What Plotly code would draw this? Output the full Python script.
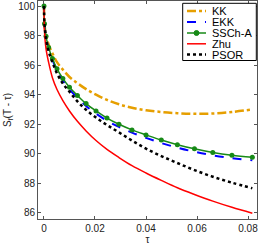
import plotly.graph_objects as go

tau = [0.0, 0.0002, 0.0008, 0.0018, 0.0033, 0.0051, 0.0074, 0.0100, 0.0131, 0.0165,
       0.0204, 0.0247, 0.0294, 0.0345, 0.0400, 0.0460, 0.0523, 0.0590, 0.0662, 0.0737, 0.0817]

kk = [100, 98.8, 98.0, 97.4, 96.8, 96.2, 95.7, 95.2, 94.78, 94.38,
      94.0, 93.65, 93.35, 93.12, 92.95, 92.83, 92.75, 92.71, 92.73, 92.83, 93.0]
ekk = [100, 98.78, 97.93, 97.15, 96.38, 95.65, 94.98, 94.36, 93.8, 93.24,
       92.72, 92.24, 91.82, 91.43, 91.08, 90.73, 90.42, 90.14, 89.9, 89.71, 89.56]
ssch = [100, 98.8, 97.95, 97.2, 96.45, 95.75, 95.1, 94.5, 93.95, 93.4,
        92.9, 92.42, 92.0, 91.62, 91.28, 90.93, 90.62, 90.34, 90.09, 89.9, 89.76]
zhu = [100, 98.3, 97.1, 96.2, 95.15, 94.35, 93.6, 92.9, 92.2, 91.55,
       90.9, 90.3, 89.75, 89.2, 88.7, 88.2, 87.7, 87.25, 86.8, 86.38, 85.98]
psor = [100, 98.8, 97.8, 96.95, 96.2, 95.45, 94.75, 94.2, 93.55, 92.98,
        92.45, 91.95, 91.45, 90.9, 90.35, 89.85, 89.38, 88.9, 88.45, 88.05, 87.67]

series_names = ["KK", "EKK", "SSCh-A", "Zhu", "PSOR"]
xticks = [0, 0.02, 0.04, 0.06, 0.08]
xticklabels = ["0", "0.02", "0.04", "0.06", "0.08"]
yticks = [86, 88, 90, 92, 94, 96, 98, 100]

styles = [
    dict(color="#E69F00", width=2.5, dash="dashdot"),
    dict(color="#0000FF", width=2, dash="dash"),
    dict(color="#178A17", width=1.5, dash="solid"),
    dict(color="#FF0000", width=1.5, dash="solid"),
    dict(color="#000000", width=2.5, dash="dot"),
]
values = [kk, ekk, ssch, zhu, psor]

fig = go.Figure()
for name, vals, st in zip(series_names, values, styles):
    has_marker = name == "SSCh-A"
    fig.add_trace(go.Scatter(
        x=tau, y=vals, name=name, mode="lines+markers" if has_marker else "lines",
        line_shape="spline", line=st, showlegend=False,
        marker=dict(symbol="circle", size=5, color=st["color"]) if has_marker else None,
    ))

# custom compact legend (paper coordinates)
W, H = 219.0, 218.0
def px(xp):
    return (xp - 38) / W
def py(yp):
    return (219 - yp) / H

shapes = [dict(type="rect", xref="paper", yref="paper", x0=px(182.7), x1=px(256.3),
               y0=py(60.5), y1=py(3.3), line=dict(color="#000000", width=1),
               fillcolor="white", layer="above")]
annotations = []
entry_y = [11, 22, 33, 43.8, 54.5]
for name, st, ey in zip(series_names, styles, entry_y):
    shapes.append(dict(type="line", xref="paper", yref="paper", x0=px(187), x1=px(206),
                       y0=py(ey), y1=py(ey), line=st, layer="above"))
    if name == "SSCh-A":
        shapes.append(dict(type="circle", xref="paper", yref="paper",
                           x0=px(194), x1=px(199), y0=py(ey + 2.5), y1=py(ey - 2.5),
                           line=dict(color=st["color"], width=1), fillcolor=st["color"],
                           layer="above"))
    annotations.append(dict(xref="paper", yref="paper", x=px(210), y=py(ey), text=name,
                            showarrow=False, xanchor="left", yanchor="middle",
                            font=dict(size=11, color="#000000")))

axis_common = dict(showline=True, linecolor="#555555", linewidth=1, mirror="ticks",
                   ticks="inside", ticklen=3, tickcolor="#555555", showgrid=False,
                   zeroline=False, tickfont=dict(size=10, color="#222222"))

fig.update_layout(
    width=259, height=245,
    margin=dict(l=38, r=2, t=1, b=26),
    paper_bgcolor="white", plot_bgcolor="white",
    font=dict(family="Liberation Sans, Arial, sans-serif", size=10, color="#222222"),
    xaxis=dict(range=[-0.00235, 0.08353], tickvals=xticks, ticktext=xticklabels,
               title=dict(text="τ", standoff=2, font=dict(size=10)), **axis_common),
    yaxis=dict(range=[85.59, 100.34], tickvals=yticks,
               title=dict(text="S<sub>f</sub>(T - τ)", standoff=4, font=dict(size=10)), **axis_common),
    shapes=shapes,
    annotations=annotations,
    showlegend=False,
)

fig.write_html("out.html", config={"displayModeBar": False},
               post_script="document.body.style.margin='0';document.body.style.padding='0';")
